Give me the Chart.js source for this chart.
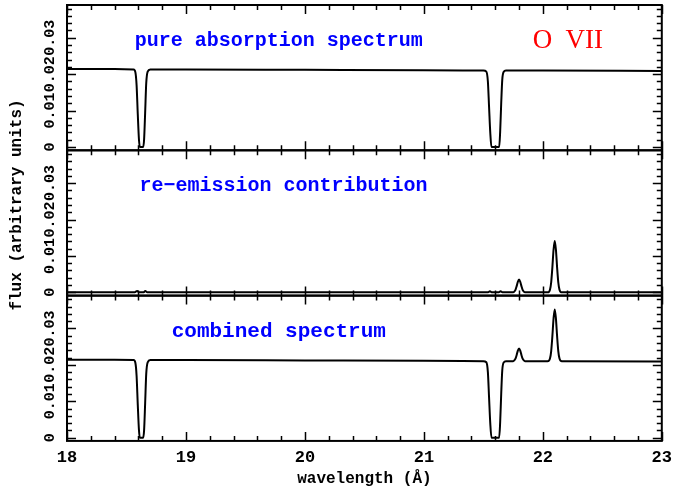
<!DOCTYPE html>
<html>
<head>
<meta charset="utf-8">
<script src="https://cdn.jsdelivr.net/npm/chart.js@4.4.0/dist/chart.umd.min.js"></script>
<style>
  body { margin: 0; background: #fff; }
  #wrap { width: 673px; height: 491px; }
</style>
</head>
<body>
<div id="wrap"><canvas id="spec"></canvas></div>
<script>
// wavelength (A) / flux
const absWave = [18.00, 18.40, 18.560, 18.575, 18.585, 18.595, 18.605, 18.612, 18.640, 18.648,
  18.657, 18.666, 18.678, 18.70, 19.00, 20.00, 21.00, 21.50, 21.525, 21.538,
  21.548, 21.558, 21.568, 21.633, 21.641, 21.650, 21.659, 21.670, 21.69, 22.00, 23.00];
const absFlux = [0.0214, 0.0214, 0.0213, 0.0205, 0.0170, 0.0090, 0.0020, 0.0000, 0.0000, 0.0020,
  0.0095, 0.0175, 0.0207, 0.0213, 0.0213, 0.0212, 0.0211, 0.0210, 0.0207, 0.0180,
  0.0110, 0.0040, 0.0000, 0.0000, 0.0040, 0.0120, 0.0185, 0.0206, 0.0210, 0.0210, 0.0209];

const emiWave = [18.00, 18.57, 18.59, 18.605, 18.645, 18.658, 18.675, 21.54, 21.555, 21.57,
  21.63, 21.645, 21.66, 21.75, 21.76, 21.77, 21.78, 21.79, 21.80, 21.81,
  21.82, 21.83, 21.84, 21.85, 22.04, 22.05, 22.06, 22.07, 22.08, 22.09,
  22.10, 22.11, 22.12, 22.13, 22.14, 22.15, 22.16, 23.00];
const emiFlux = [0, 0, 0.0004, 0, 0, 0.0004, 0, 0, 0.0003, 0,
  0, 0.0003, 0, 0, 0.0002, 0.0007, 0.0017, 0.0029, 0.0035, 0.0029,
  0.0017, 0.0007, 0.0002, 0, 0, 0.0001, 0.0007, 0.0027, 0.0068, 0.0117,
  0.0141, 0.0117, 0.0068, 0.0027, 0.0007, 0.0001, 0, 0];

const combWave = [18.00, 18.40, 18.560, 18.575, 18.585, 18.595, 18.605, 18.612, 18.640, 18.648,
  18.657, 18.666, 18.678, 18.70, 19.00, 20.00, 21.00, 21.50, 21.525, 21.538,
  21.548, 21.558, 21.568, 21.633, 21.641, 21.650, 21.659, 21.670, 21.69, 21.75,
  21.76, 21.77, 21.78, 21.79, 21.80, 21.81, 21.82, 21.83, 21.84, 21.85,
  22.04, 22.05, 22.06, 22.07, 22.08, 22.09, 22.10, 22.11, 22.12, 22.13,
  22.14, 22.15, 22.16, 23.00];
const combFlux = [0.0214, 0.0214, 0.0213, 0.0205, 0.0170, 0.0090, 0.0020, 0.0000, 0.0000, 0.0020,
  0.0095, 0.0175, 0.0207, 0.0213, 0.0213, 0.0212, 0.0211, 0.0210, 0.0207, 0.0180,
  0.0110, 0.0040, 0.0000, 0.0000, 0.0040, 0.0120, 0.0185, 0.0206, 0.0210, 0.0210,
  0.0212, 0.0217, 0.0227, 0.0239, 0.0245, 0.0239, 0.0227, 0.0217, 0.0212, 0.0210,
  0.0210, 0.0211, 0.0217, 0.0237, 0.0278, 0.0327, 0.0352, 0.0327, 0.0278, 0.0237,
  0.0217, 0.0211, 0.0210, 0.0209];

const yTickLabels = ['0', '0.01', '0.02', '0.03'];
const panelIds = ['y1', 'y2', 'y3'];   // top to bottom
const panelTitles = ['pure absorption spectrum', 're\u2212emission contribution', 'combined spectrum'];
const titleWave = [18.57, 18.61, 18.88];

const toPoints = (xs, ys) => xs.map((x, i) => ({ x: x, y: ys[i] }));

const lineSet = (xs, ys, axis) => ({
  data: toPoints(xs, ys),
  yAxisID: axis,
  borderColor: '#000',
  borderWidth: 2,
  pointRadius: 0,
  cubicInterpolationMode: 'monotone',
  fill: false
});

const panelScale = () => ({
  type: 'linear',
  stack: 'panels',
  stackWeight: 1,
  min: -0.0009,
  max: 0.039,
  ticks: { display: false },
  grid: { display: false, drawTicks: false },
  border: { display: false }
});

const monoBold = (size) => `bold ${size}px "Liberation Mono", "DejaVu Sans Mono", monospace`;

const framePlugin = {
  id: 'frames',
  afterDraw(chart) {
    const ctx = chart.ctx;
    const x = chart.scales.x;
    ctx.save();
    ctx.strokeStyle = '#000';
    panelIds.forEach((id, p) => {
      const s = chart.scales[id];
      ctx.lineWidth = 2;
      ctx.strokeRect(x.left, s.top, x.right - x.left, s.bottom - s.top);
      ctx.lineWidth = 1.5;
      ctx.beginPath();
      for (let k = 0; k <= 25; k++) {
        const v = 18 + k * 0.2;
        const px = Math.round(x.getPixelForValue(v)) + 0.5;
        const len = k % 5 === 0 ? 9 : 5;
        ctx.moveTo(px, s.top); ctx.lineTo(px, s.top + len);
        ctx.moveTo(px, s.bottom); ctx.lineTo(px, s.bottom - len);
      }
      for (let k = 0; k <= 19; k++) {
        const v = k * 0.002;
        const py = Math.round(s.getPixelForValue(v)) + 0.5;
        const len = k % 5 === 0 ? 9 : 5;
        ctx.moveTo(x.left, py); ctx.lineTo(x.left + len, py);
        ctx.moveTo(x.right, py); ctx.lineTo(x.right - len, py);
      }
      ctx.stroke();

      // rotated y tick labels
      ctx.fillStyle = '#000';
      ctx.font = monoBold(15);
      ctx.textAlign = 'center';
      ctx.textBaseline = 'middle';
      yTickLabels.forEach(t => {
        ctx.save();
        ctx.translate(50, s.getPixelForValue(parseFloat(t)));
        ctx.rotate(-Math.PI / 2);
        ctx.fillText(t, 0, 0);
        ctx.restore();
      });

      // panel caption
      ctx.fillStyle = '#0000ff';
      ctx.font = monoBold(p === 2 ? 21 : 20);
      ctx.textAlign = 'left';
      ctx.textBaseline = 'alphabetic';
      ctx.fillText(panelTitles[p], x.getPixelForValue(titleWave[p]), s.getPixelForValue(0.0277));
    });

    // ion label
    const top = chart.scales.y1;
    ctx.fillStyle = '#ff0000';
    ctx.font = '27px "Liberation Serif", "DejaVu Serif", serif';
    ctx.textAlign = 'left';
    ctx.textBaseline = 'alphabetic';
    ctx.fillText('O', x.getPixelForValue(21.915), top.getPixelForValue(0.0273));
    ctx.fillText('VII', x.getPixelForValue(22.19), top.getPixelForValue(0.0273));

    // y axis title
    ctx.fillStyle = '#000';
    ctx.font = monoBold(16);
    ctx.textAlign = 'center';
    ctx.textBaseline = 'middle';
    ctx.save();
    ctx.translate(17, 205);
    ctx.rotate(-Math.PI / 2);
    ctx.fillText('flux (arbitrary units)', 0, 0);
    ctx.restore();
    ctx.restore();
  }
};

new Chart(document.getElementById('spec'), {
  type: 'line',
  data: {
    datasets: [
      lineSet(absWave, absFlux, 'y1'),
      lineSet(emiWave, emiFlux, 'y2'),
      lineSet(combWave, combFlux, 'y3')
    ]
  },
  options: {
    responsive: true,
    maintainAspectRatio: false,
    animation: false,
    layout: { padding: { left: 67, right: 11, top: 5, bottom: 6.4 } },
    scales: {
      x: {
        type: 'linear',
        min: 18,
        max: 23,
        grid: { display: false, drawTicks: false },
        border: { display: false },
        ticks: {
          stepSize: 1,
          padding: 1,
          color: '#000',
          font: { family: '"Liberation Mono", monospace', weight: 'bold', size: 17, lineHeight: 1.84 }
        },
        title: {
          display: true,
          text: 'wavelength (Å)',
          color: '#000',
          padding: 0,
          font: { family: '"Liberation Mono", monospace', weight: 'bold', size: 16, lineHeight: 0.65 }
        }
      },
      // stacked scales are placed bottom-up, so the lowest panel comes first
      y3: panelScale(),
      y2: panelScale(),
      y1: panelScale()
    },
    plugins: {
      legend: { display: false },
      tooltip: { enabled: false }
    }
  },
  plugins: [framePlugin]
});
</script>
</body>
</html>
